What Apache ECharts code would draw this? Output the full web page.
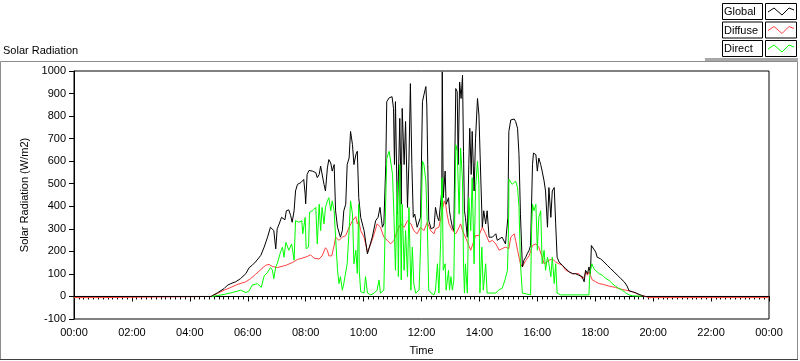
<!DOCTYPE html>
<html>
<head>
<meta charset="utf-8">
<script src="https://cdn.jsdelivr.net/npm/echarts@6/dist/echarts.min.js"></script>
<style>
html,body{margin:0;padding:0;background:#fff;}
#chart{width:800px;height:361px;}
</style>
</head>
<body>
<div id="chart"></div>
<script>
// time in minutes since midnight, value in W/m2
var seriesNames = ['Global', 'Diffuse', 'Direct'];
var yTicks = { min: -100, max: 1000, step: 100 };
var xTicks = { min: 0, max: 1440, step: 120 };

var globalData = [[0,0],[284,0],[297,16],[311,35],[318,50],[325,57],[335,65],[345,79],[356,101],[363,128],[369,138],[376,153],[387,182],[394,219],[401,263],[407,307],[414,292],[418,211],[421,300],[425,321],[430,351],[434,358],[437,340],[440,380],[445,384],[449,358],[452,329],[456,380],[459,468],[463,497],[470,505],[473,512],[476,519],[479,453],[480,411],[483,541],[487,559],[494,556],[501,549],[504,527],[508,541],[511,578],[514,585],[518,497],[521,468],[525,570],[528,607],[532,592],[535,556],[539,585],[542,380],[546,307],[549,300],[552,263],[556,292],[559,380],[563,409],[566,585],[570,614],[573,732],[577,673],[580,585],[584,629],[587,644],[590,438],[594,351],[601,292],[608,189],[611,197],[618,263],[625,336],[630,351],[634,395],[639,307],[642,322],[646,585],[648,864],[653,881],[659,886],[662,834],[664,585],[666,864],[670,365],[673,600],[675,790],[678,409],[680,834],[684,585],[687,776],[691,395],[694,600],[697,944],[700,585],[703,351],[706,365],[711,307],[718,351],[722,864],[725,894],[729,931],[731,849],[733,585],[735,336],[740,300],[746,307],[749,395],[753,351],[756,336],[762,468],[763,996],[765,438],[769,556],[771,409],[776,438],[778,380],[780,351],[784,307],[787,292],[791,922],[794,908],[796,585],[799,951],[802,878],[805,981],[807,644],[809,380],[811,351],[815,263],[818,585],[820,746],[823,541],[825,732],[829,468],[832,702],[836,878],[839,805],[843,512],[846,307],[849,380],[853,322],[856,380],[860,263],[867,263],[874,278],[877,249],[881,249],[887,263],[894,233],[899,351],[900,556],[901,732],[905,783],[912,787],[915,776],[919,746],[922,629],[925,365],[929,131],[932,160],[936,174],[939,189],[943,205],[946,226],[950,585],[952,636],[957,629],[960,556],[963,614],[967,585],[970,556],[974,512],[977,468],[981,307],[984,483],[988,351],[991,468],[995,483],[998,322],[1001,174],[1005,153],[1012,138],[1019,123],[1026,109],[1033,101],[1039,101],[1046,94],[1053,88],[1057,65],[1060,116],[1064,101],[1067,131],[1070,101],[1072,226],[1075,219],[1081,197],[1084,174],[1091,167],[1098,153],[1105,138],[1112,123],[1119,109],[1126,94],[1133,79],[1140,65],[1146,46],[1150,25],[1157,21],[1164,16],[1171,9],[1178,3],[1184,0],[1440,0]];

var diffuseData = [[0,-5],[45,-5],[46,0],[49,0],[50,-5],[60,-5],[61,0],[284,0],[297,13],[311,28],[325,40],[338,53],[356,65],[366,79],[376,98],[387,119],[397,138],[404,142],[411,133],[421,128],[425,131],[439,138],[452,150],[463,164],[473,170],[483,177],[490,185],[497,170],[508,166],[514,180],[521,216],[525,205],[528,180],[534,180],[539,226],[542,263],[549,249],[556,263],[563,270],[570,307],[577,336],[584,354],[587,322],[590,336],[594,292],[601,263],[608,197],[615,233],[622,278],[628,322],[635,307],[642,263],[649,249],[656,233],[663,249],[670,292],[677,322],[684,307],[691,336],[698,322],[704,292],[711,278],[718,307],[725,292],[732,329],[739,292],[746,278],[749,300],[756,307],[763,380],[767,424],[770,409],[773,365],[777,322],[784,292],[791,278],[798,307],[801,322],[805,292],[811,263],[818,226],[822,205],[825,197],[829,249],[832,270],[839,270],[846,307],[853,278],[860,241],[867,249],[874,233],[881,205],[887,212],[894,219],[901,212],[905,263],[912,278],[915,249],[919,205],[922,174],[925,145],[929,131],[936,160],[943,181],[950,226],[957,233],[963,219],[970,174],[974,145],[977,153],[984,160],[991,167],[998,153],[1005,145],[1012,138],[1019,116],[1026,109],[1033,101],[1039,101],[1046,101],[1053,79],[1057,88],[1060,109],[1064,94],[1067,109],[1070,101],[1074,73],[1081,65],[1088,57],[1095,54],[1102,50],[1108,46],[1115,43],[1122,40],[1129,35],[1136,31],[1143,28],[1150,25],[1157,20],[1164,15],[1171,7],[1178,3],[1184,0],[1190,-5],[1440,-5]];

// direct: only the daylight part is visible in the reference (night values lie under the Global trace)
var directData = [[286,0],[297,4],[311,9],[325,16],[338,23],[345,28],[356,17],[363,25],[369,50],[380,57],[388,40],[394,91],[401,107],[407,128],[411,117],[414,79],[418,131],[421,145],[425,150],[428,197],[432,219],[434,226],[435,174],[439,240],[442,233],[445,205],[451,233],[456,161],[459,336],[466,329],[472,336],[474,278],[479,351],[481,212],[486,219],[488,373],[494,380],[497,373],[501,395],[504,233],[508,409],[511,292],[514,395],[518,322],[521,395],[525,424],[528,438],[532,380],[535,424],[539,380],[542,263],[546,116],[549,57],[552,88],[556,28],[559,57],[563,50],[566,145],[570,292],[573,424],[577,365],[580,145],[584,205],[587,102],[590,409],[591,116],[594,22],[601,15],[604,88],[608,15],[615,7],[622,15],[628,28],[632,73],[635,15],[642,28],[646,438],[648,612],[653,644],[656,651],[660,541],[663,351],[666,116],[670,512],[672,88],[675,585],[678,73],[680,409],[684,116],[687,292],[691,88],[694,395],[698,28],[701,219],[704,57],[708,15],[715,28],[718,219],[722,600],[725,585],[729,512],[732,322],[735,28],[740,15],[746,7],[749,28],[753,145],[756,15],[760,263],[762,512],[763,527],[765,116],[769,145],[771,28],[776,116],[778,28],[781,88],[784,28],[787,73],[791,673],[794,644],[798,365],[801,658],[805,512],[807,145],[809,15],[811,145],[815,15],[818,438],[822,292],[825,527],[829,145],[832,483],[836,600],[839,497],[841,15],[845,219],[848,28],[853,145],[856,15],[860,7],[874,15],[881,31],[887,35],[893,73],[898,116],[900,263],[901,438],[901,520],[905,512],[908,497],[912,505],[915,512],[919,483],[922,395],[925,145],[929,15],[946,7],[948,292],[950,409],[953,380],[957,409],[960,205],[963,351],[967,380],[970,145],[974,205],[977,116],[981,174],[984,145],[988,88],[991,174],[995,57],[998,145],[1001,15],[1008,7],[1067,7],[1068,73],[1070,116],[1073,145],[1074,138],[1077,123],[1081,116],[1088,101],[1095,94],[1102,79],[1108,73],[1115,57],[1122,46],[1129,35],[1136,28],[1143,16],[1150,7],[1157,3],[1176,1]];

var colors = ['#000000', '#ff4040', '#00ff00'];
var FONT = '"Liberation Sans", Arial, sans-serif';

function fmtTime(v) {
  var m = Math.round(v) % 1440;
  var h = Math.floor(m / 60), mm = m % 60;
  return (h < 10 ? '0' : '') + h + ':' + (mm < 10 ? '0' : '') + mm;
}

var chart = echarts.init(document.getElementById('chart'), null, { renderer: 'canvas' });

// legend built as graphic boxes (text box + line swatch box)
var legendGraphics = [];
seriesNames.forEach(function (name, i) {
  var top = 3 + i * 18.5;
  legendGraphics.push({
    type: 'rect', shape: { x: 722.5, y: top + 0.5, width: 40, height: 16 },
    style: { fill: '#fff', stroke: '#000', lineWidth: 1 }, silent: true
  });
  legendGraphics.push({
    type: 'text', style: { x: 724, y: top + 9, text: name, fill: '#000', font: '11px ' + FONT, verticalAlign: 'middle', textAlign: 'left' }, silent: true
  });
  legendGraphics.push({
    type: 'rect', shape: { x: 765.5, y: top + 0.5, width: 31, height: 16 },
    style: { fill: '#fff', stroke: '#000', lineWidth: 1 }, silent: true
  });
  legendGraphics.push({
    type: 'polyline', shape: { points: [[768, top + 9], [774, top + 5], [782, top + 12], [789, top + 5], [794, top + 7]] },
    style: { stroke: colors[i], lineWidth: 1, fill: null }, silent: true
  });
});

var option = {
  animation: false,
  backgroundColor: '#fff',
  textStyle: { fontFamily: FONT },
  grid: { left: 74, top: 71, right: 31, bottom: 40, show: true, borderColor: '#000', borderWidth: 1, backgroundColor: '#fff' },
  graphic: [
    { type: 'rect', shape: { x: 0.5, y: 61.5, width: 797, height: 298 }, style: { fill: null, stroke: '#8c8c8c', lineWidth: 1 }, silent: true },
    { type: 'line', shape: { x1: 0, y1: 359.5, x2: 798, y2: 359.5 }, style: { stroke: '#404040', lineWidth: 1 }, silent: true },
    { type: 'rect', shape: { x: 705, y: 58, width: 93, height: 3 }, style: { fill: '#a8a8a8' }, silent: true },
    { type: 'text', style: { x: 3, y: 51, text: 'Solar Radiation', fill: '#000', font: '11px ' + FONT, verticalAlign: 'middle' }, silent: true }
  ].concat(legendGraphics),
  xAxis: {
    type: 'value', min: xTicks.min, max: xTicks.max, interval: xTicks.step,
    name: 'Time', nameLocation: 'middle', nameGap: 26,
    nameTextStyle: { color: '#000', fontSize: 11, fontFamily: FONT },
    axisLine: { show: true, lineStyle: { color: '#000', width: 1 } },
    axisTick: { show: true, length: 5, lineStyle: { color: '#000' } },
    minorTick: { show: true, splitNumber: 12, length: 3, lineStyle: { color: '#000' } },
    splitLine: { show: false },
    minorSplitLine: { show: false },
    axisLabel: { color: '#000', fontSize: 11, fontFamily: FONT, margin: 8, formatter: fmtTime, showMaxLabel: true, showMinLabel: true }
  },
  yAxis: {
    type: 'value', min: yTicks.min, max: yTicks.max, interval: yTicks.step,
    name: 'Solar Radiation (W/m2)', nameLocation: 'middle', nameGap: 40, nameRotate: 90,
    nameTextStyle: { color: '#000', fontSize: 11, fontFamily: FONT },
    axisLine: { show: true, lineStyle: { color: '#000', width: 1 } },
    axisTick: { show: true, length: 5, lineStyle: { color: '#000' } },
    splitLine: { show: false },
    axisLabel: { color: '#000', fontSize: 11, fontFamily: FONT, margin: 8, formatter: function (v) { return String(v); } }
  },
  series: [
    { name: seriesNames[1], type: 'line', data: diffuseData, showSymbol: false, symbol: 'none', lineStyle: { color: colors[1], width: 1 }, itemStyle: { color: colors[1] }, z: 2 },
    { name: seriesNames[0], type: 'line', data: globalData, showSymbol: false, symbol: 'none', lineStyle: { color: colors[0], width: 1 }, itemStyle: { color: colors[0] }, z: 3 },
    { name: seriesNames[2], type: 'line', data: directData, showSymbol: false, symbol: 'none', lineStyle: { color: colors[2], width: 1 }, itemStyle: { color: colors[2] }, z: 4 }
  ]
};
chart.setOption(option);
</script>
</body>
</html>
